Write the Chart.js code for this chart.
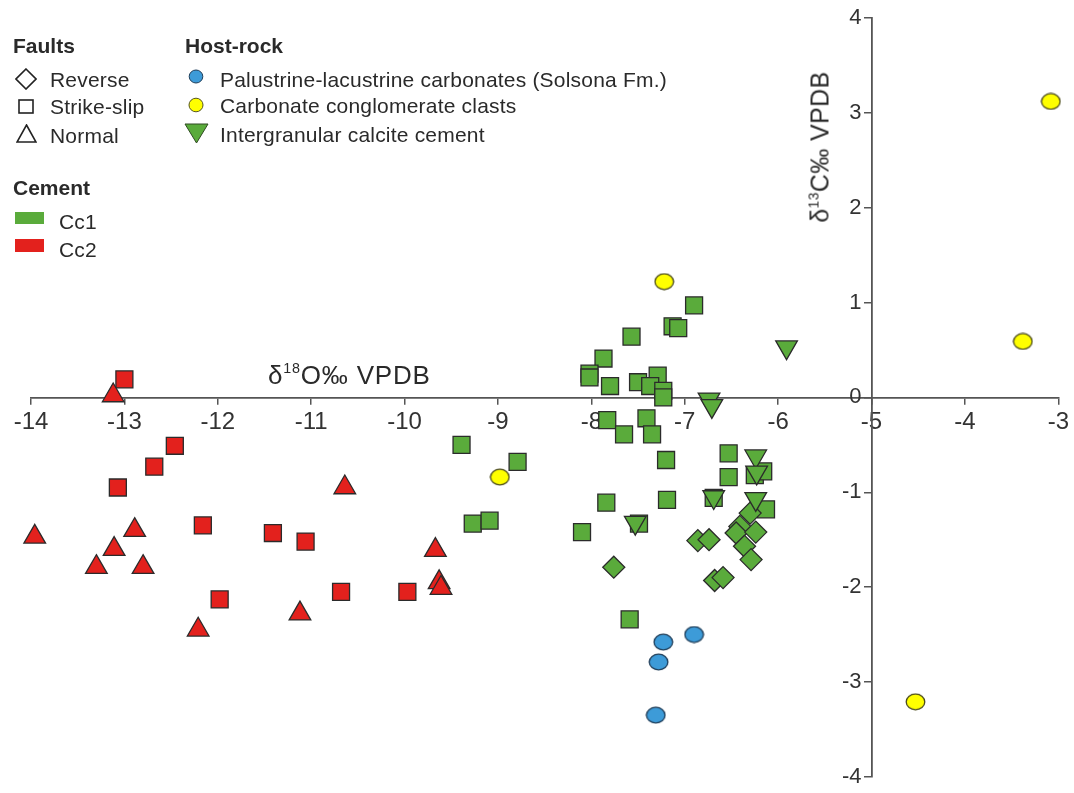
<!DOCTYPE html>
<html>
<head>
<meta charset="utf-8">
<script src="https://cdn.jsdelivr.net/npm/chart.js@4.4.1/dist/chart.umd.min.js"></script>
<style>
  body { margin: 0; background: #fff; font-family: "Liberation Sans", Arial, sans-serif; color: #2a2a2a; }
  #wrap { position: relative; width: 1074px; height: 793px; }
  #chart { position: absolute; left: 0; top: 0; }
  .t { position: absolute; font-size: 21px; line-height: 21px; white-space: nowrap; letter-spacing: 0.2px; }
  .h { font-weight: bold; letter-spacing: 0; }
  .mk { position: absolute; }
  sup { font-size: 0.55em; vertical-align: 0; position: relative; top: -0.75em; }
  #xTitle { position: absolute; left: 268px; top: 362px; font-size: 26px; line-height: 26px; white-space: nowrap; letter-spacing: 0.8px; }
  #yTitle { position: absolute; left: 822px; top: 147px; font-size: 25px; line-height: 25px; white-space: nowrap; letter-spacing: 0.4px;
            transform: translate(-50%, -50%) rotate(-90deg); }
</style>
</head>
<body>
<div id="wrap">
  <canvas id="chart" width="1074" height="793"></canvas>

  <div class="t h" style="left:13px;top:35px">Faults</div>
  <svg class="mk" style="left:15px;top:68px" width="22" height="22"><polygon points="11,1 21,11 11,21 1,11" fill="none" stroke="#222" stroke-width="1.6"/></svg>
  <div class="t" style="left:50px;top:69px">Reverse</div>
  <svg class="mk" style="left:18px;top:99px" width="16" height="16"><rect x="1" y="1" width="14" height="13" fill="none" stroke="#222" stroke-width="1.6"/></svg>
  <div class="t" style="left:50px;top:96px">Strike-slip</div>
  <svg class="mk" style="left:16px;top:124px" width="21" height="19"><polygon points="10.5,1 20,18 1,18" fill="none" stroke="#222" stroke-width="1.6"/></svg>
  <div class="t" style="left:50px;top:125px">Normal</div>

  <div class="t h" style="left:185px;top:35px">Host-rock</div>
  <svg class="mk" style="left:188px;top:69px" width="16" height="15"><ellipse cx="8" cy="7.5" rx="6.8" ry="6.5" fill="#3d9bd8" stroke="#1d3c58" stroke-width="1"/></svg>
  <div class="t" style="left:220px;top:69px">Palustrine-lacustrine carbonates (Solsona Fm.)</div>
  <svg class="mk" style="left:188px;top:97px" width="16" height="16"><ellipse cx="8" cy="8" rx="7" ry="6.8" fill="#ffff00" stroke="#55551e" stroke-width="1"/></svg>
  <div class="t" style="left:220px;top:95px">Carbonate conglomerate clasts</div>
  <svg class="mk" style="left:184px;top:123px" width="25" height="21"><polygon points="1,1 24,1 12.5,20" fill="#5aab3b" stroke="#2f4a22" stroke-width="1"/></svg>
  <div class="t" style="left:220px;top:124px">Intergranular calcite cement</div>

  <div class="t h" style="left:13px;top:177px">Cement</div>
  <div class="mk" style="left:15px;top:212px;width:29px;height:12px;background:#5aab3b"></div>
  <div class="t" style="left:59px;top:211px">Cc1</div>
  <div class="mk" style="left:15px;top:239px;width:29px;height:13px;background:#e3211d"></div>
  <div class="t" style="left:59px;top:239px">Cc2</div>

  <div id="xTitle">δ<sup>18</sup>O‰ VPDB</div>
  <div id="yTitle">δ<sup>13</sup>C‰ VPDB</div>
</div>
<script>
// δ18O (x) / δ13C (y) pairs
const cc2StrikeSlip = [[-13.0, 0.19], [-12.46, -0.51], [-12.68, -0.73], [-13.07, -0.95], [-12.16, -1.35],
  [-11.41, -1.43], [-11.06, -1.52], [-11.98, -2.13], [-10.68, -2.05], [-9.97, -2.05]];
const cc2Normal = [[-13.12, 0.02], [-13.96, -1.47], [-12.89, -1.40], [-13.11, -1.60], [-13.30, -1.79],
  [-12.80, -1.79], [-10.64, -0.95], [-9.67, -1.61], [-9.63, -1.95], [-9.61, -2.01], [-11.12, -2.28], [-12.21, -2.45]];
const cc1StrikeSlip = [[-9.39, -0.50], [-9.27, -1.33], [-9.09, -1.30], [-8.79, -0.68],
  [-6.90, 0.97], [-7.13, 0.75], [-7.07, 0.73], [-7.57, 0.64], [-7.87, 0.41], [-8.02, 0.25], [-8.02, 0.21],
  [-7.80, 0.12], [-7.50, 0.16], [-7.29, 0.23], [-7.37, 0.12], [-7.23, 0.07], [-7.23, 0.00],
  [-7.83, -0.24], [-7.41, -0.22], [-7.65, -0.39], [-7.35, -0.39], [-7.20, -0.66], [-6.53, -0.59], [-6.53, -0.84],
  [-7.84, -1.11], [-7.19, -1.08], [-6.69, -1.06], [-6.25, -0.82], [-6.16, -0.78], [-6.13, -1.18],
  [-8.10, -1.42], [-7.49, -1.33], [-7.59, -2.34]];
const cc1Reverse = [[-7.76, -1.79], [-6.86, -1.51], [-6.74, -1.50], [-6.30, -1.22], [-6.41, -1.36], [-6.45, -1.43],
  [-6.24, -1.42], [-6.36, -1.57], [-6.29, -1.71], [-6.68, -1.93], [-6.59, -1.90]];
const intergranular = [[-5.91, 0.53], [-6.74, -0.02], [-6.71, -0.09], [-6.24, -0.62], [-6.23, -0.79],
  [-6.69, -1.05], [-6.24, -1.07], [-7.53, -1.32]];
const palustrine = [[-6.90, -2.50], [-7.23, -2.58], [-7.28, -2.79], [-7.31, -3.35]];
const conglomerate = [[-7.22, 1.22], [-8.98, -0.84], [-3.08, 3.12], [-3.38, 0.59], [-4.53, -3.21]];

const xTicks = [-14, -13, -12, -11, -10, -9, -8, -7, -6, -5, -4, -3];
const yTicks = [-4, -3, -2, -1, 0, 1, 2, 3, 4];

const GREEN = '#5aab3b', RED = '#e3211d', BLUE = '#3d9bd8', YELLOW = '#ffff00';
const EDGE = '#2b2b2b';

function ellipseMarker(fill, stroke) {
  const c = document.createElement('canvas'); c.width = 21; c.height = 18;
  const g = c.getContext('2d');
  g.beginPath(); g.ellipse(10.5, 9, 9.3, 7.8, 0, 0, Math.PI * 2);
  g.fillStyle = fill; g.fill(); g.lineWidth = 1.3; g.strokeStyle = stroke; g.stroke();
  return c;
}

const pts = arr => arr.map(p => ({ x: p[0], y: p[1] }));
function set(label, data, fill, style, radius, rotation) {
  return { label: label, data: pts(data), backgroundColor: fill, borderColor: EDGE, borderWidth: 1.3,
    pointStyle: style, pointRadius: radius, pointHoverRadius: radius, pointRotation: rotation || 0, clip: false };
}

// y axis sits at x = -5; push its labels off the axis line like a left axis
const yLabelGap = {
  id: 'yLabelGap',
  beforeDraw(chart) {
    chart.scales.y.getLabelItems().forEach(it => {
      if (!it._moved) { it.options.translation[0] -= 10; it._moved = true; }
    });
  }
};

new Chart(document.getElementById('chart').getContext('2d'), {
  type: 'scatter',
  data: {
    datasets: [
      set('Carbonate conglomerate clasts', conglomerate, YELLOW, ellipseMarker(YELLOW, '#4a4a1a'), 10),
      set('Palustrine-lacustrine carbonates', palustrine, BLUE, ellipseMarker(BLUE, '#1d3c58'), 10),
      set('Intergranular calcite cement', intergranular, GREEN, 'triangle', 12.5, 180),
      set('Cc1 reverse', cc1Reverse, GREEN, 'rectRot', 11),
      set('Cc1 strike-slip', cc1StrikeSlip, GREEN, 'rect', 12),
      set('Cc2 normal', cc2Normal, RED, 'triangle', 12.5),
      set('Cc2 strike-slip', cc2StrikeSlip, RED, 'rect', 12)
    ]
  },
  plugins: [yLabelGap],
  options: {
    responsive: false, animation: false, events: [],
    layout: { padding: { left: 31, right: 15, top: 18, bottom: 13 } },
    plugins: { legend: { display: false }, tooltip: { enabled: false } },
    scales: {
      x: {
        type: 'linear', position: { y: 0 }, min: -14, max: -3,
        afterBuildTicks: s => { s.ticks = xTicks.map(v => ({ value: v })); },
        ticks: { color: '#333', font: { family: 'Liberation Sans', size: 24 }, padding: 5, maxRotation: 0 },
        grid: { drawOnChartArea: false, drawTicks: true, tickLength: 6, color: '#555', lineWidth: 1.5 },
        border: { color: '#555', width: 1.8 }
      },
      y: {
        type: 'linear', position: { x: -5 }, min: -4, max: 4,
        afterBuildTicks: s => { s.ticks = yTicks.map(v => ({ value: v })); },
        ticks: { color: '#333', font: { family: 'Liberation Sans', size: 22 }, padding: 3 },
        grid: { drawOnChartArea: false, drawTicks: true, tickLength: 7, color: '#555', lineWidth: 1.5 },
        border: { color: '#555', width: 1.8 }
      }
    }
  }
});
</script>
</body>
</html>
